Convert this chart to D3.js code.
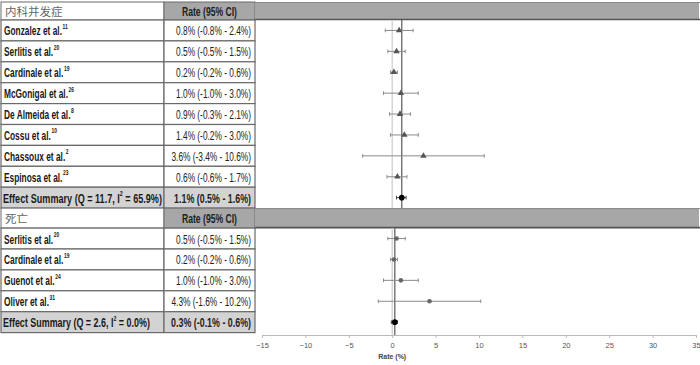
<!DOCTYPE html>
<html><head><meta charset="utf-8">
<script src="https://cdn.jsdelivr.net/npm/d3@7"></script>
<style>
body{margin:0;background:#fff;}
svg{display:block;}
</style></head>
<body>
<svg id="c" width="700" height="365"></svg>
<script>
// ---- data ----
const header1 = "内科并发症";
const header2 = "死亡";
const rateHeader = "Rate (95% CI)";
const studies1 = ["Gonzalez et al.", "Serlitis et al.", "Cardinale et al.", "McGonigal et al.", "De Almeida et al.", "Cossu et al.", "Chassoux et al.", "Espinosa et al."];
const refs1 = ["11", "20", "19", "26", "8", "10", "2", "23"];
const rate1 = [0.8, 0.5, 0.2, 1.0, 0.9, 1.4, 3.6, 0.6];
const lo1 = [-0.8, -0.5, -0.2, -1.0, -0.3, -0.2, -3.4, -0.6];
const hi1 = [2.4, 1.5, 0.6, 3.0, 2.1, 3.0, 10.6, 1.7];
const summary1 = {q: 11.7, i2: 65.9, rate: 1.1, lo: 0.5, hi: 1.6};

const studies2 = ["Serlitis et al.", "Cardinale et al.", "Guenot et al.", "Oliver et al."];
const refs2 = ["20", "19", "24", "31"];
const rate2 = [0.5, 0.2, 1.0, 4.3];
const lo2 = [-0.5, -0.2, -1.0, -1.6];
const hi2 = [1.5, 0.6, 3.0, 10.2];
const summary2 = {q: 2.6, i2: 0.0, rate: 0.3, lo: -0.1, hi: 0.6};

const xTicks = [-15, -10, -5, 0, 5, 10, 15, 20, 25, 30, 35];
const xLabel = "Rate (%)";

// ---- layout ----
const svg = d3.select("#c");
const c1L = 1, c1R = 164, c2R = 255, pR = 699;
const rowH = 20.9;
const h1Top = 2;
const axisY = 335;

const x = d3.scaleLinear().domain([-15, 35]).range([262, 696]);

const fmt = v => v.toFixed(1) + "%";
const rateText = (r, l, h) => `${fmt(r)} (${fmt(l)} - ${fmt(h)})`;

const FONT = "'Liberation Sans',Arial,sans-serif";
const headGray = "#a7a7a7", sumGray = "#d3d3d3", border = "#6a6a6a";
const FS = 13.5, FSR = 13, SUP = 8;

function measure(str, size, weight) {
  const t = svg.append("text").attr("font-family", FONT).attr("font-size", size).attr("font-weight", weight).text(str);
  const w = t.node().getComputedTextLength();
  t.remove();
  return w;
}
const nameScale = 58 / measure("Gonzalez et al.", FS, "bold");
const rateScale = 75 / measure(rateText(rate1[0], lo1[0], hi1[0]), FSR, "normal");
const sumRateScale = 77 / measure(rateText(summary1.rate, summary1.lo, summary1.hi), FSR, "bold");
const hdrScale = 55 / measure(rateHeader, FSR, "bold");

function stext(px, py, sx, anchor) {
  const g = svg.append("g").attr("transform", `translate(${px},${py}) scale(${sx},1)`);
  return g.append("text").attr("x", 0).attr("y", 0).attr("text-anchor", anchor || "start")
    .attr("font-family", FONT);
}

function section(top, hh, hdr, studies, refs, rate, lo, hi, summary, marker, lineBottom) {
  svg.append("rect").attr("x", c1L).attr("y", top).attr("width", c1R - c1L).attr("height", hh)
    .attr("fill", "#fff").attr("stroke", border).attr("stroke-width", 1);
  svg.append("rect").attr("x", c1R).attr("y", top).attr("width", c2R - c1R).attr("height", hh)
    .attr("fill", headGray).attr("stroke", border).attr("stroke-width", 1);
  svg.append("rect").attr("x", c2R).attr("y", top).attr("width", pR - c2R).attr("height", hh)
    .attr("fill", headGray).attr("stroke", "none");
  svg.append("line").attr("x1", c2R).attr("x2", pR + 1).attr("y1", top + 0.5).attr("y2", top + 0.5).attr("stroke", "#888").attr("stroke-width", 1);
  svg.append("line").attr("x1", c2R).attr("x2", pR + 1).attr("y1", top + hh - 0.5).attr("y2", top + hh - 0.5).attr("stroke", "#555").attr("stroke-width", 1.6);
  svg.append("text").attr("x", c1L + 4).attr("y", top + hh / 2 + 4.5).text(hdr)
    .attr("font-family", "'Noto Sans CJK SC',sans-serif").attr("font-size", 11.5).attr("fill", "#666");
  stext((c1R + c2R) / 2, top + hh / 2 + 4.5, hdrScale, "middle").text(rateHeader)
    .attr("font-weight", "bold").attr("font-size", FSR).attr("fill", "#222");

  const rowsTop = top + hh;
  const n = studies.length;
  const rowY = i => rowsTop + i * rowH;
  for (let i = 0; i <= n; i++) {
    const isSum = i === n;
    const y0 = rowY(i);
    svg.append("rect").attr("x", c1L).attr("y", y0).attr("width", c1R - c1L).attr("height", rowH)
      .attr("fill", isSum ? sumGray : "#fff").attr("stroke", border).attr("stroke-width", 1.2);
    svg.append("rect").attr("x", c1R).attr("y", y0).attr("width", c2R - c1R).attr("height", rowH)
      .attr("fill", isSum ? sumGray : "#fff").attr("stroke", border).attr("stroke-width", 1.2);
    const ty = y0 + rowH / 2 + 5;
    if (!isSum) {
      const t = stext(c1L + 3, ty, nameScale).attr("font-weight", "bold").attr("font-size", FS).attr("fill", "#1a1a1a");
      t.append("tspan").text(studies[i]);
      t.append("tspan").text(refs[i]).attr("font-size", SUP).attr("dy", -6.5).attr("dx", 1);
      stext(c2R - 4, ty, rateScale, "end").attr("font-size", FSR).attr("fill", "#222")
        .text(rateText(rate[i], lo[i], hi[i]));
    } else {
      const t = stext(c1L + 2, ty, 1).attr("font-weight", "bold").attr("font-size", FS).attr("fill", "#1a1a1a");
      t.append("tspan").text(`Effect Summary (Q = ${summary.q.toFixed(1)}, I`);
      t.append("tspan").text("2").attr("font-size", SUP).attr("dy", -6.5);
      t.append("tspan").text(` = ${summary.i2.toFixed(1)}%)`).attr("dy", 6.5);
      const target = summary === summary1 ? 159 : 147;
      const w = t.node().getComputedTextLength();
      d3.select(t.node().parentNode).attr("transform", `translate(${c1L + 2},${ty}) scale(${target / w},1)`);
      stext(c2R - 4, ty, sumRateScale, "end").attr("font-size", FSR).attr("font-weight", "bold").attr("fill", "#222")
        .text(rateText(summary.rate, summary.lo, summary.hi));
    }
  }
  const bottom = rowY(n + 1);
  const yEnd = lineBottom === null ? bottom : lineBottom;
  svg.append("line").attr("x1", x(0)).attr("x2", x(0)).attr("y1", rowsTop).attr("y2", yEnd)
    .attr("stroke", "#d0d0d0").attr("stroke-width", 1.3);
  svg.append("line").attr("x1", x(summary.rate)).attr("x2", x(summary.rate)).attr("y1", rowsTop).attr("y2", yEnd)
    .attr("stroke", "#707070").attr("stroke-width", 1.4);

  const all = studies.map((s, i) => ({r: rate[i], l: lo[i], h: hi[i], y: rowY(i) + rowH / 2, sum: false}));
  all.push({r: summary.rate, l: summary.lo, h: summary.hi, y: rowY(n) + rowH / 2, sum: true});
  all.forEach(d => {
    const g = svg.append("g");
    const col = d.sum ? "#444" : "#8a8a8a";
    g.append("line").attr("x1", x(d.l)).attr("x2", x(d.h)).attr("y1", d.y).attr("y2", d.y)
      .attr("stroke", col).attr("stroke-width", 1);
    [d.l, d.h].forEach(v => g.append("line").attr("x1", x(v)).attr("x2", x(v)).attr("y1", d.y - 1.8).attr("y2", d.y + 1.8)
      .attr("stroke", col).attr("stroke-width", 1));
    if (d.sum) {
      g.append("circle").attr("cx", x(d.r)).attr("cy", d.y).attr("r", 2.8).attr("fill", "#000");
    } else if (marker === "tri") {
      g.append("path").attr("d", d3.symbol(d3.symbolTriangle, 18)()).attr("transform", `translate(${x(d.r)},${d.y})`).attr("fill", "#555");
    } else {
      g.append("circle").attr("cx", x(d.r)).attr("cy", d.y).attr("r", 2.3).attr("fill", "#666");
    }
  });
  return bottom;
}

const b1 = section(h1Top, 18, header1, studies1, refs1, rate1, lo1, hi1, summary1, "tri", null);
section(b1, 20, header2, studies2, refs2, rate2, lo2, hi2, summary2, "circ", axisY);

const axis = d3.axisBottom(x).tickValues(xTicks).tickSize(3).tickFormat(d3.format("d"));
const ag = svg.append("g").attr("transform", `translate(0,${axisY})`).call(axis);
ag.select(".domain").attr("stroke", "#bbb");
ag.selectAll(".tick line").attr("stroke", "#bbb");
ag.selectAll(".tick text").attr("font-family", FONT).attr("font-size", 7.5).attr("fill", "#555").attr("dy", "0.9em");
svg.append("text").attr("x", x(0)).attr("y", 359).attr("text-anchor", "middle").text(xLabel)
  .attr("font-family", FONT).attr("font-weight", "bold").attr("font-size", 7).attr("fill", "#444");
</script>
</body></html>
